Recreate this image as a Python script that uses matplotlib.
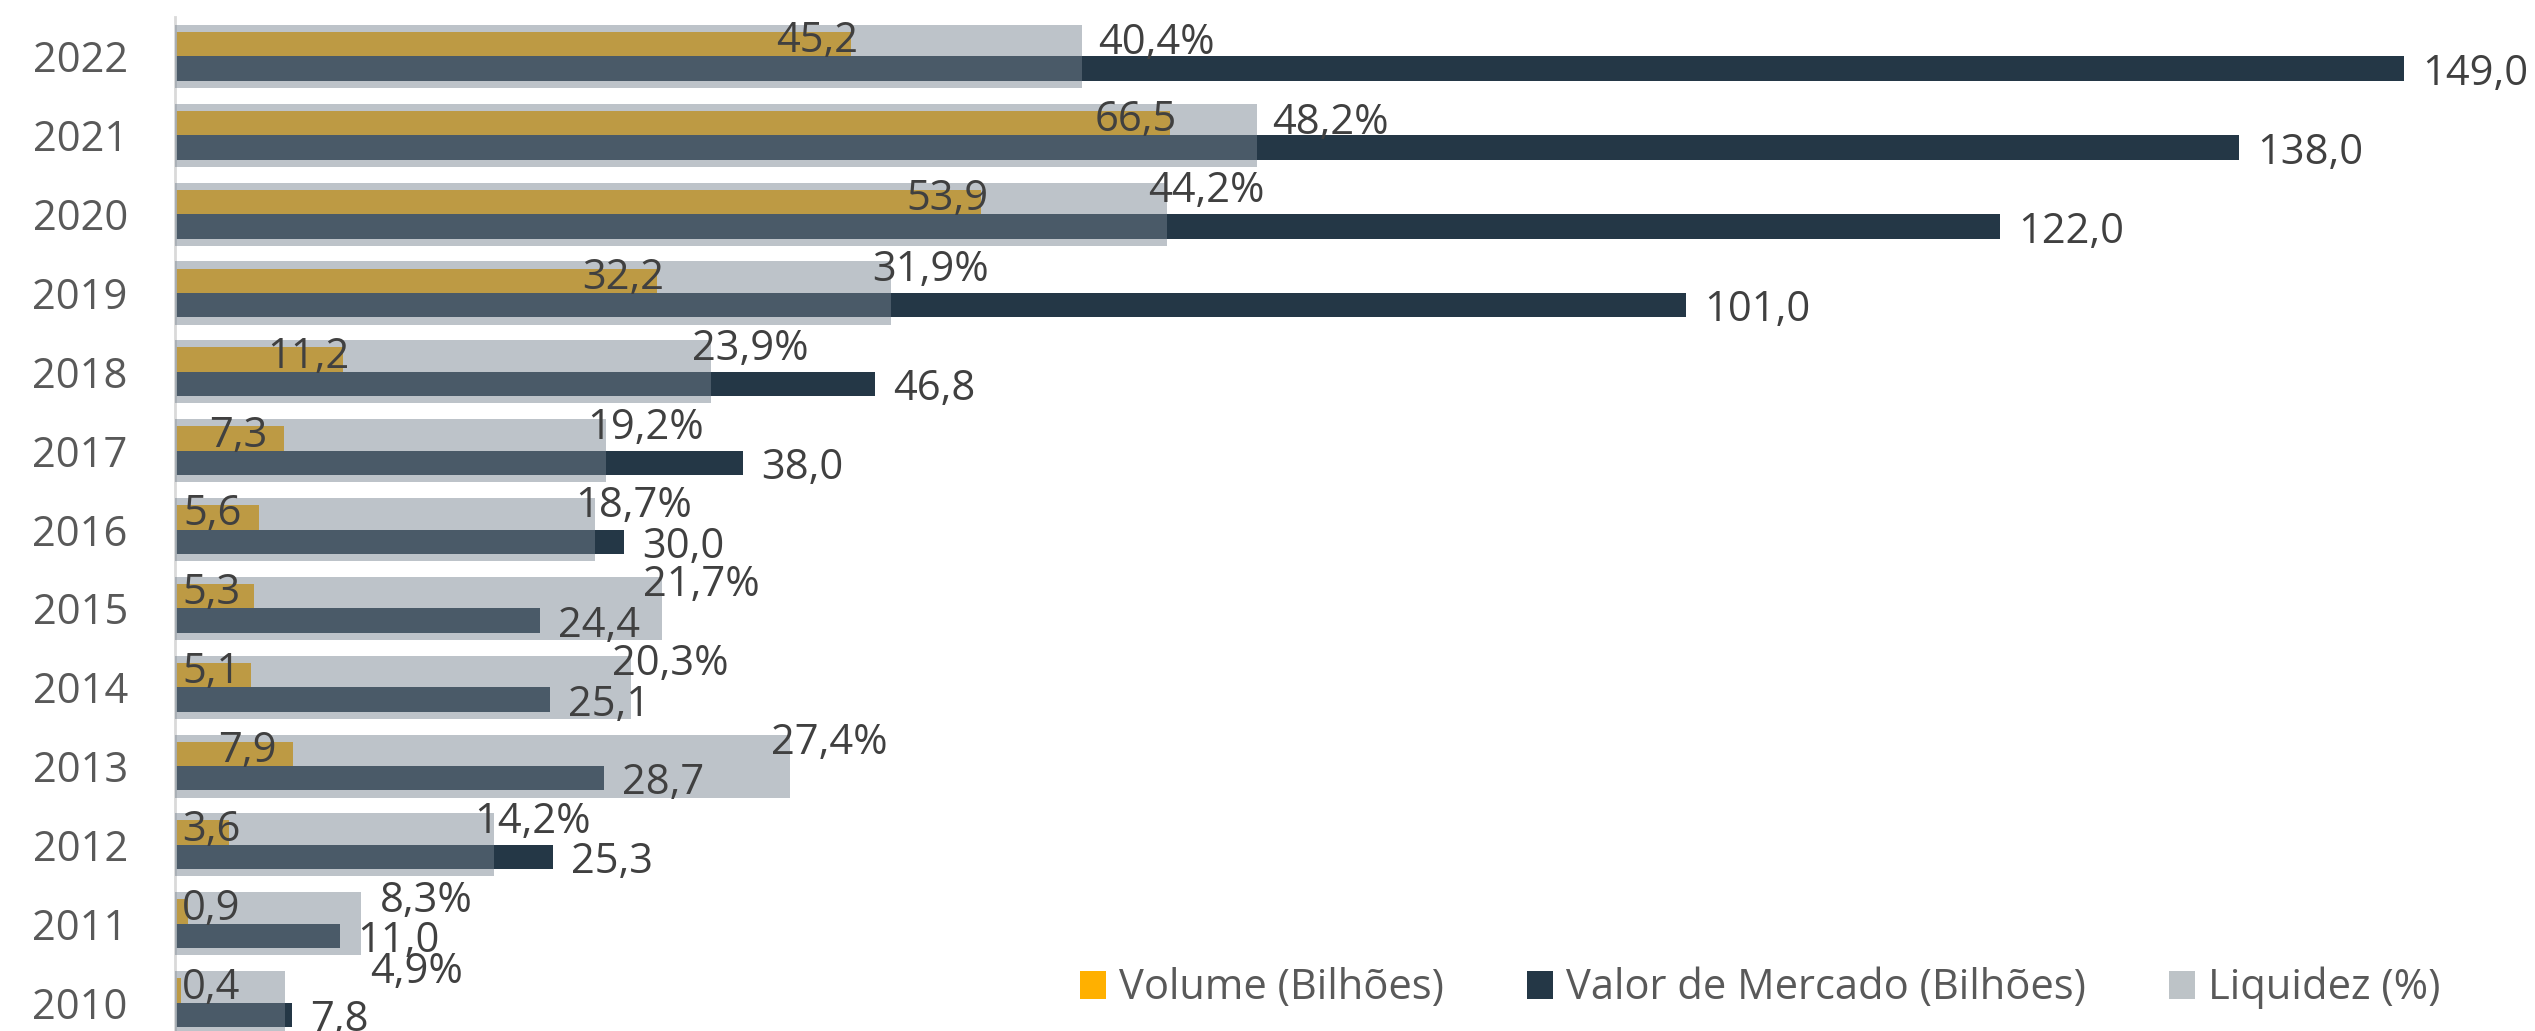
import matplotlib
matplotlib.use("Agg")
import matplotlib.pyplot as plt
from matplotlib.patches import Patch

# ---- data ----
years = [2010, 2011, 2012, 2013, 2014, 2015, 2016, 2017, 2018, 2019, 2020, 2021, 2022]
volume = [0.4, 0.9, 3.6, 7.9, 5.1, 5.3, 5.6, 7.3, 11.2, 32.2, 53.9, 66.5, 45.2]
valor = [7.8, 11.0, 25.3, 28.7, 25.1, 24.4, 30.0, 38.0, 46.8, 101.0, 122.0, 138.0, 149.0]
liquidez = [4.9, 8.3, 14.2, 27.4, 20.3, 21.7, 18.7, 19.2, 23.9, 31.9, 44.2, 48.2, 40.4]
series_names = ["Volume (Bilhões)", "Valor de Mercado (Bilhões)", "Liquidez (%)"]

# ---- style ----
C_VOL = "#FFB000"
C_VAL = "#243746"
C_LIQ_LEG = "#BDC3C7"
C_LIQ = "#75828F"
LIQ_ALPHA = 0.48
TXT = "#404040"
TXT2 = "#595959"
FONT = ["Open Sans", "DejaVu Sans"]
FS = 30
plt.rcParams["font.family"] = FONT

W, H = 2535, 1031
fig = plt.figure(figsize=(W / 100, H / 100), dpi=100)
left_px, right_px, top_px, bottom_px = 175, 2419, 17, 1042
ax = fig.add_axes([left_px / W, 1 - bottom_px / H, (right_px - left_px) / W, (bottom_px - top_px) / H])
ax2 = ax.twiny()

idx = list(range(len(years)))
bh = 0.31
gh = 0.80

ax.barh([i + bh / 2 for i in idx], volume, height=bh, color=C_VOL, zorder=2)
ax.barh([i - bh / 2 for i in idx], valor, height=bh, color=C_VAL, zorder=2)
ax2.barh(idx, liquidez, height=gh, color=C_LIQ, alpha=LIQ_ALPHA, zorder=2)

ax.set_xlim(0, 150)
ax2.set_xlim(0, 100)
ax.set_ylim(-0.5, len(years) - 0.5)

for a in (ax, ax2):
    for s in ("top", "right", "bottom"):
        a.spines[s].set_visible(False)
    a.set_xticks([])
ax2.spines["left"].set_visible(False)
ax.spines["left"].set_color("#D9D9D9")
ax.spines["left"].set_linewidth(2)
ax.set_yticks(idx)
ax.set_yticklabels([str(y) for y in years], fontsize=FS, color=TXT2)
ax.tick_params(axis="y", length=0, pad=34)


def fmt(v, pct=False):
    s = f"{v:.1f}".replace(".", ",")
    return s + ("%" if pct else "")


fig.canvas.draw()
px_per_unit = ax.transData.transform((1, 0))[0] - ax.transData.transform((0, 0))[0]

# Volume labels
for i, v in zip(idx, volume):
    if v * px_per_unit - 75 > 6:
        xy, off = (v, i), (-75, 4)
    else:
        xy, off = (0, i), (7, 4)
    ax2.annotate(fmt(v), xy=xy, xycoords=ax.transData, xytext=off, textcoords="offset pixels",
                 ha="left", va="baseline", fontsize=FS, color=TXT, zorder=5, annotation_clip=False)

# Valor labels
for i, v in zip(idx, valor):
    ax2.annotate(fmt(v), xy=(v, i - bh), xycoords=ax.transData, xytext=(18, -4),
                 textcoords="offset pixels", ha="left", va="baseline", fontsize=FS, color=TXT,
                 zorder=5, annotation_clip=False)

# Liquidez labels (with a few manual nudges as in the original)
nudge = {2022: (36, -10), 2021: (35, -11), 2011: (38, 0), 2010: (104, 8)}
for i, y, v in zip(idx, years, liquidez):
    dx, dy = nudge.get(y, (0, 0))
    ax2.annotate(fmt(v, True), xy=(v, i + gh / 2), xycoords=ax2.transData,
                 xytext=(-19 + dx, -19.5 + dy), textcoords="offset pixels", ha="left",
                 va="baseline", fontsize=FS, color=TXT, zorder=5, annotation_clip=False)

handles = [Patch(facecolor=C_VOL), Patch(facecolor=C_VAL), Patch(facecolor=C_LIQ_LEG)]
fig.legend(handles, series_names, loc="center left", bbox_to_anchor=(1080 / W, 1 - 988 / H),
           ncol=3, frameon=False, fontsize=FS, handlelength=0.62, handleheight=0.65,
           handletextpad=0.31, columnspacing=2.0, borderpad=0, borderaxespad=0, labelcolor=TXT2)

fig.savefig("out.png", dpi=100)
